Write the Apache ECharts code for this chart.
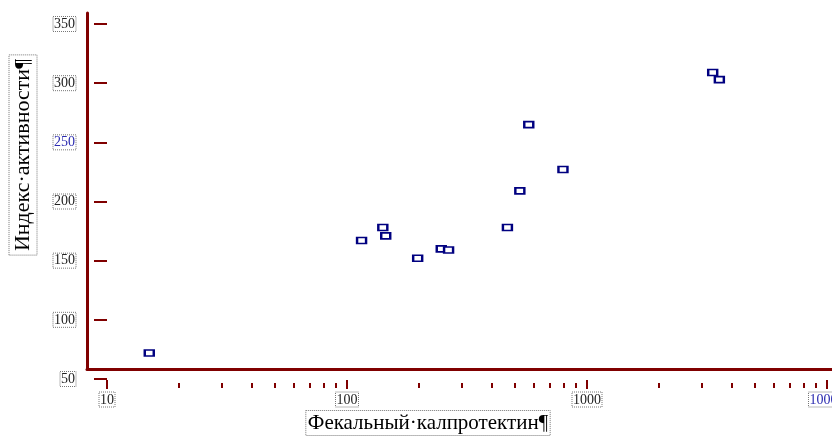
<!DOCTYPE html>
<html>
<head>
<meta charset="utf-8">
<script src="https://cdn.jsdelivr.net/npm/echarts@6/dist/echarts.min.js"></script>
<style>
  html, body { margin: 0; padding: 0; background: #fff; }
  #chart { width: 832px; height: 436px; }
</style>
</head>
<body>
<div id="chart"></div>
<script>
// фекальный калпротектин (log) и индекс активности
const calprotectin = [15, 115, 141, 145, 197, 247, 265, 466, 525, 572, 794, 3340, 3560];
const activity = [72, 167, 178, 171, 152, 160, 159, 178, 209, 265, 227, 309, 303];

const xMajorTicks = [10, 100, 1000, 10000];
const xMinorTicks = [20, 30, 40, 50, 60, 70, 80, 90,
  200, 300, 400, 500, 600, 700, 800, 900,
  2000, 3000, 4000, 5000, 6000, 7000, 8000, 9000];
const yTicks = [50, 100, 150, 200, 250, 300, 350];

const xTitle = "Фекальный·калпротектин¶";
const yTitle = "Индекс·активности¶";

const maroon = "#800000";
const navy = "#000080";
const blueLabel = "#2b2bb0";
const serif = "Liberation Serif";

const labelBox = {
  fontFamily: serif,
  fontSize: 14,
  borderColor: "#777",
  borderWidth: 1,
  borderType: "dotted",
  padding: [1, 1, 0, 1],
};

const chart = echarts.init(document.getElementById("chart"));

chart.setOption({
  animation: false,
  grid: [
    { left: 107, right: 5, top: 24, bottom: 57, outerBoundsMode: "none", containLabel: false },
    { left: 87, right: 0, top: 13, bottom: 67, outerBoundsMode: "none", containLabel: false },
  ],
  xAxis: [
    {
      gridIndex: 0,
      type: "log",
      logBase: 10,
      min: 10,
      max: 10000,
      position: "bottom",
      offset: 1,
      axisLine: { show: false },
      axisTick: {
        customValues: xMajorTicks,
        length: 9,
        lineStyle: { color: maroon, width: 2 },
      },
      axisLabel: Object.assign({}, labelBox, {
        customValues: xMajorTicks,
        margin: 12,
        formatter: (v) => String(v),
        color: (v) => (Number(v) === 10000 ? blueLabel : "#222"),
      }),
      splitLine: { show: false },
      minorTick: { show: false },
    },
    {
      gridIndex: 0,
      type: "log",
      logBase: 10,
      min: 10,
      max: 10000,
      position: "bottom",
      offset: 4,
      axisLine: { show: false },
      axisTick: {
        customValues: xMinorTicks,
        length: 5,
        lineStyle: { color: maroon, width: 2 },
      },
      axisLabel: { show: false },
      splitLine: { show: false },
    },
    {
      gridIndex: 1,
      type: "value",
      min: 0,
      max: 1,
      axisLine: { show: true, onZero: false, lineStyle: { color: maroon, width: 3 } },
      axisTick: { show: false },
      axisLabel: { show: false },
      splitLine: { show: false },
    },
  ],
  yAxis: [
    {
      gridIndex: 0,
      type: "value",
      min: 50,
      max: 350,
      interval: 50,
      axisLine: { show: false },
      axisTick: {
        length: 13,
        lineStyle: { color: maroon, width: 2 },
      },
      axisLabel: Object.assign({}, labelBox, {
        margin: 31,
        color: (v) => (Number(v) === 250 ? blueLabel : "#222"),
      }),
      splitLine: { show: false },
    },
    {
      gridIndex: 1,
      type: "value",
      min: 0,
      max: 1,
      axisLine: { show: true, onZero: false, lineStyle: { color: maroon, width: 3 } },
      axisTick: { show: false },
      axisLabel: { show: false },
      splitLine: { show: false },
    },
  ],
  graphic: [
    {
      type: "text",
      x: 23,
      y: 155,
      rotation: Math.PI / 2,
      style: {
        text: yTitle,
        fontFamily: serif,
        fontSize: 22,
        fill: "#000",
        align: "center",
        verticalAlign: "middle",
        borderColor: "#777",
        borderWidth: 1,
        borderDash: [1, 1],
        padding: [3, 4],
      },
    },
    {
      type: "text",
      x: 428,
      y: 423,
      style: {
        text: xTitle,
        fontFamily: serif,
        fontSize: 21,
        fill: "#000",
        align: "center",
        verticalAlign: "middle",
        borderColor: "#777",
        borderWidth: 1,
        borderDash: [1, 1],
        padding: [2, 2],
      },
    },
  ],
  series: [
    {
      type: "scatter",
      xAxisIndex: 0,
      yAxisIndex: 0,
      symbol: "rect",
      symbolSize: [9, 6],
      itemStyle: { color: "#fff", borderColor: navy, borderWidth: 2, opacity: 1 },
      data: calprotectin.map((c, i) => [c, activity[i]]),
    },
  ],
});
</script>
</body>
</html>
